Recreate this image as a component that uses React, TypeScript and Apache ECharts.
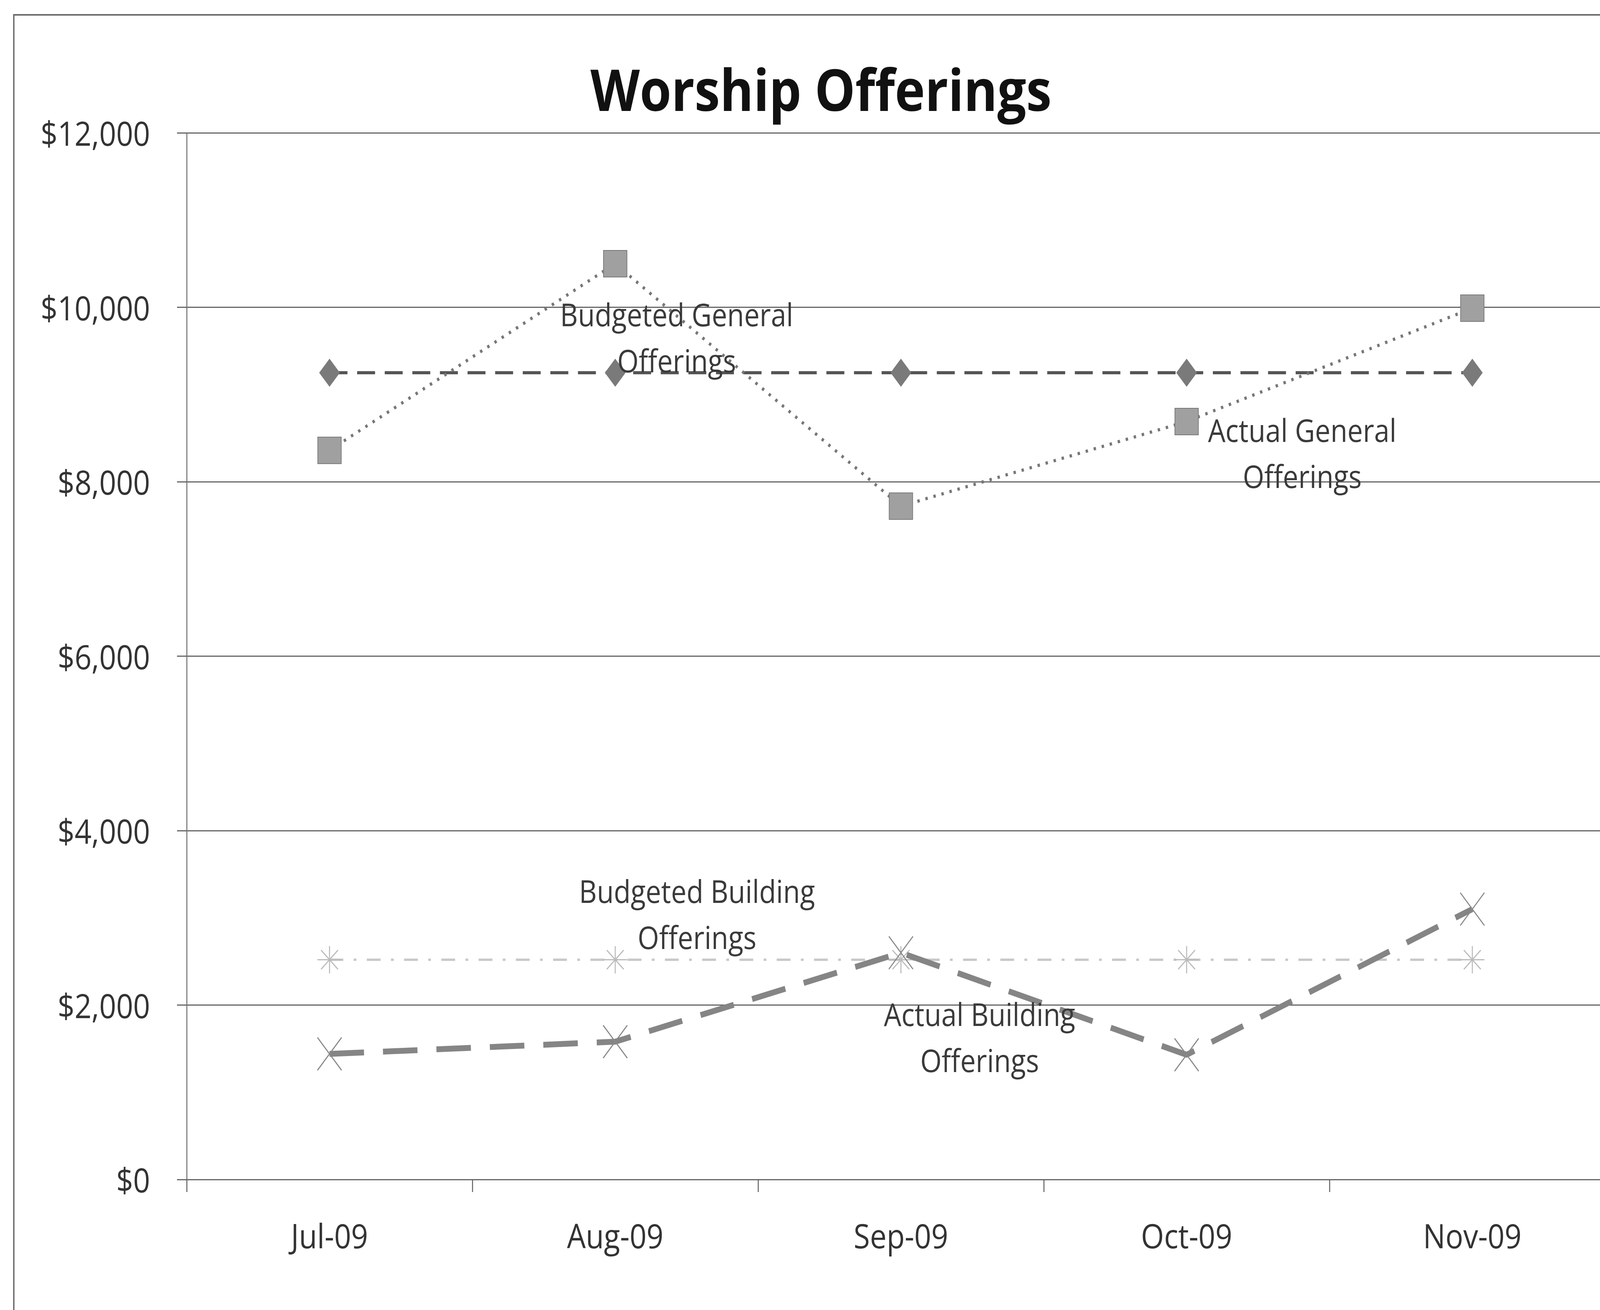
import React, { useEffect, useRef, useState } from "react";
import * as echarts from "echarts";

const categories = ["Jul-09", "Aug-09", "Sep-09", "Oct-09", "Nov-09"];
const budgetedGeneral = [9250, 9250, 9250, 9250, 9250];
const actualGeneral = [8360, 10500, 7720, 8690, 9990];
const budgetedBuilding = [2520, 2520, 2520, 2520, 2520];
const actualBuilding = [1440, 1580, 2600, 1430, 3100];
const yTicks = { min: 0, max: 12000, interval: 2000 };

const seriesNames = [
  "Budgeted General Offerings",
  "Actual General Offerings",
  "Budgeted Building Offerings",
  "Actual Building Offerings",
];
const labelTexts = [
  "Budgeted General\nOfferings",
  "Actual General\nOfferings",
  "Budgeted Building\nOfferings",
  "Actual Building\nOfferings",
];
const labelIndex = [1, 3, 1, 2];
const labelOffsets: [number, number][] = [
  [178, -91],
  [335, 80],
  [237, -118],
  [228, 215],
];

const REF_W = 4637;
const REF_H = 3353;
const FONT = "'Open Sans', 'Noto Sans', sans-serif";
const X_PATH = "path://M0,0L10,12M10,0L0,12";
const STAR_PATH = "path://M5,0L5,10M0,5L10,5M1.5,1.5L8.5,8.5M8.5,1.5L1.5,8.5";

function withLabel(values: number[], si: number) {
  return values.map((v, i) =>
    i === labelIndex[si]
      ? {
          value: v,
          label: {
            show: true,
            formatter: labelTexts[si],
            position: "inside",
            offset: labelOffsets[si],
            fontSize: 80,
            lineHeight: 118,
            color: "#3a3a3a",
            fontFamily: FONT,
            align: "center",
            verticalAlign: "middle",
          },
        }
      : v
  );
}

export default function App() {
  const ref = useRef<HTMLDivElement>(null);
  const [sx] = useState(() =>
    Math.min(1, (typeof window !== "undefined" ? window.innerWidth : REF_W) / REF_W)
  );
  useEffect(() => {
    const el = ref.current!;
    const chart = echarts.init(el, null, { renderer: "svg" });
    chart.setOption({
      animation: false,
      backgroundColor: "#ffffff",
      title: {
        text: "Worship Offerings",
        left: 1706,
        top: 132,
        textStyle: {
          fontSize: 148,
          fontWeight: "bold",
          color: "#111",
          fontFamily: FONT,
          lineHeight: 180,
        },
      },
      graphic: [
        {
          type: "rect",
          shape: { x: 40, y: 38, width: REF_W + 100, height: REF_H + 100 },
          style: { fill: "none", stroke: "#6a6a6a", lineWidth: 4 },
          silent: true,
        },
      ],
      grid: {
        left: 541,
        top: 340,
        width: 4140,
        height: 2679,
        outerBoundsMode: "none",
        containLabel: false,
      },
      xAxis: {
        type: "category",
        data: categories,
        boundaryGap: true,
        axisLine: { show: true, lineStyle: { color: "#666", width: 3 } },
        axisTick: { show: true, length: 32, lineStyle: { color: "#666", width: 3 } },
        axisLabel: { fontSize: 86, color: "#333", fontFamily: FONT, margin: 100 },
      },
      yAxis: {
        type: "value",
        min: yTicks.min,
        max: yTicks.max,
        interval: yTicks.interval,
        axisLine: { show: true, lineStyle: { color: "#777", width: 3 } },
        axisTick: { show: true, length: 28, lineStyle: { color: "#666", width: 3 } },
        splitLine: { show: true, lineStyle: { color: "#666", width: 3 } },
        axisLabel: {
          fontSize: 86,
          color: "#333",
          fontFamily: FONT,
          margin: 106,
          formatter: (v: number) => "$" + v.toLocaleString("en-US"),
        },
      },
      series: [
        {
          name: seriesNames[0],
          type: "line",
          data: withLabel(budgetedGeneral, 0),
          symbol: "diamond",
          symbolSize: [60, 72],
          lineStyle: { color: "#555", width: 8, type: [52, 28] },
          itemStyle: { color: "#7a7a7a" },
          z: 4,
        },
        {
          name: seriesNames[1],
          type: "line",
          data: withLabel(actualGeneral, 1),
          symbol: "rect",
          symbolSize: 68,
          lineStyle: { color: "#777", width: 8, type: [7, 17] },
          itemStyle: { color: "#a0a0a0", borderColor: "#777", borderWidth: 2 },
          z: 5,
        },
        {
          name: seriesNames[2],
          type: "line",
          data: withLabel(budgetedBuilding, 2),
          symbol: STAR_PATH,
          symbolSize: 70,
          lineStyle: { color: "#c8c8c8", width: 6, type: [40, 30, 8, 30] },
          itemStyle: { color: "none", borderColor: "#bbb", borderWidth: 3 },
          z: 3,
        },
        {
          name: seriesNames[3],
          type: "line",
          data: withLabel(actualBuilding, 3),
          symbol: X_PATH,
          symbolSize: [70, 84],
          lineStyle: { color: "#858585", width: 15, type: [100, 55] },
          itemStyle: { color: "none", borderColor: "#888", borderWidth: 3 },
          z: 4,
        },
      ],
    });
    return () => chart.dispose();
  }, []);
  return (
    <div
      style={{
        position: "absolute",
        left: 0,
        top: 0,
        width: REF_W * sx,
        height: REF_H,
        overflow: "hidden",
      }}
    >
      <div
        ref={ref}
        style={{
          width: REF_W,
          height: REF_H,
          transform: `scaleX(${sx})`,
          transformOrigin: "0 0",
        }}
      />
    </div>
  );
}
